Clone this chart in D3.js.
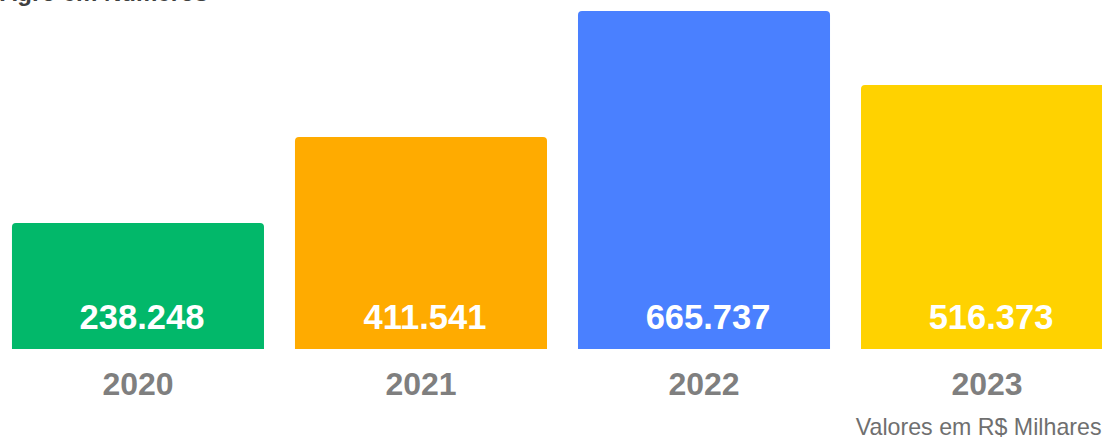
<!DOCTYPE html>
<html>
<head>
<meta charset="utf-8">
<script src="https://cdn.jsdelivr.net/npm/d3@7/dist/d3.min.js"></script>
<style>
  html, body { margin: 0; padding: 0; background: #ffffff; overflow: hidden; }
  svg { display: block; }
</style>
</head>
<body>
<svg id="chart" width="1102" height="439"></svg>
<script>
// Annual values (R$ thousands)
const years = ["2020", "2021", "2022", "2023"];
const values = [238.248, 411.541, 665.737, 516.373];
const valueLabels = ["238.248", "411.541", "665.737", "516.373"];
const barColors = ["#02b86a", "#ffab00", "#4a80ff", "#ffd200"];
const titleText = "Agro em Números";
const noteText = "Valores em R$ Milhares";

const svg = d3.select("#chart");

// Horizontal band scale; the plot runs slightly past the right edge
const x = d3.scaleBand()
  .domain(years)
  .range([-3.6, 1128.6])
  .paddingInner(0.1095)
  .paddingOuter(0.055);

// Bars sit on a base a little below zero
const y = d3.scaleLinear()
  .domain([-16, 665.737])
  .range([349, 11]);

const data = years.map((yr, i) => ({ year: yr, value: values[i], label: valueLabels[i], color: barColors[i] }));

// Bar with rounded top corners
function barPath(x0, y0, w, yBase, r) {
  const rr = Math.min(r, w / 2, (yBase - y0) / 2);
  return `M${x0},${yBase}` +
    `V${y0 + rr}` +
    `Q${x0},${y0} ${x0 + rr},${y0}` +
    `H${x0 + w - rr}` +
    `Q${x0 + w},${y0} ${x0 + w},${y0 + rr}` +
    `V${yBase}Z`;
}

svg.append("g")
  .selectAll("path")
  .data(data)
  .join("path")
  .attr("d", d => barPath(x(d.year), y(d.value), x.bandwidth(), y(-16), 4))
  .attr("fill", d => d.color);

// Value labels inside bars
svg.append("g")
  .selectAll("text")
  .data(data)
  .join("text")
  .attr("x", d => x(d.year) + x.bandwidth() / 2 + 4)
  .attr("y", 329)
  .attr("text-anchor", "middle")
  .attr("font-family", "'Liberation Sans', Arial, sans-serif")
  .attr("font-weight", "bold")
  .attr("font-size", 34.5)
  .attr("fill", "#ffffff")
  .text(d => d.label);

// Category axis (labels only)
const xAxis = svg.append("g")
  .attr("transform", "translate(0,362)")
  .call(d3.axisBottom(x).tickSize(0).tickPadding(0));
xAxis.select(".domain").remove();
xAxis.selectAll("text")
  .attr("dy", 0)
  .attr("y", 33)
  .attr("font-family", "'Liberation Sans', Arial, sans-serif")
  .attr("font-weight", "bold")
  .attr("font-size", 32)
  .attr("fill", "#7f7f7f");

// Title (top edge)
svg.append("text")
  .attr("x", 0)
  .attr("y", 0.5)
  .attr("font-family", "'Liberation Sans', Arial, sans-serif")
  .attr("font-weight", "bold")
  .attr("font-size", 24)
  .attr("fill", "#404040")
  .text(titleText);

// Units note
svg.append("text")
  .attr("x", 1101.5)
  .attr("y", 435)
  .attr("text-anchor", "end")
  .attr("font-family", "'Liberation Sans', Arial, sans-serif")
  .attr("font-size", 23.2)
  .attr("fill", "#6f6f6f")
  .text(noteText);
</script>
</body>
</html>
